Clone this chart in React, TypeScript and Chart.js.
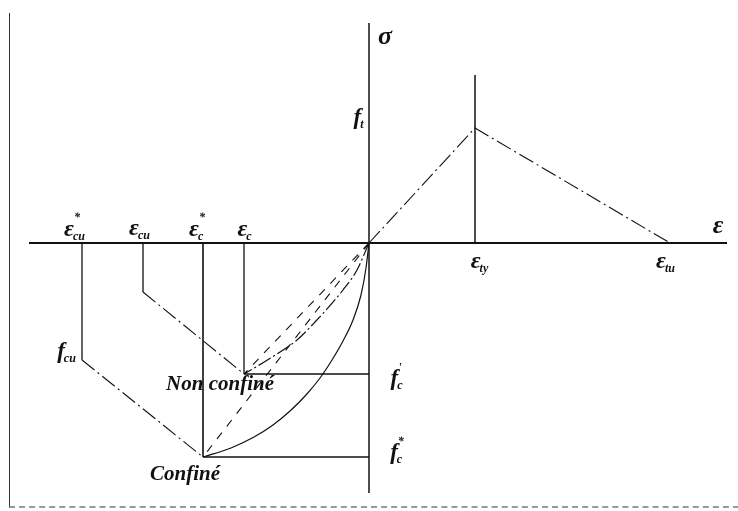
import React, { useEffect, useRef } from "react";
import { Chart, registerables } from "chart.js";

Chart.register(...registerables);

// Plot window (strain on x, stress on y, compression negative)
const X_RANGE = [-7.38, 7.38];
const Y_RANGE = [-5.36, 4.86];

// Axes extents
const strainAxisRange = [-6.8, 7.16];
const stressAxisRange = [-5.0, 4.4];

// Concrete: ε*cu, εcu, ε*c, εc
const concreteStrains = [-5.74, -4.52, -3.32, -2.5];
// Concrete: fcu (at ε*cu), stress at εcu, f*c, f'c
const concreteStresses = [-2.34, -0.98, -4.28, -2.62];

// Steel: origin, yield (εty, ft), ultimate (εtu)
const steelStrains = [0, 2.12, 6.02];
const steelStresses = [0, 2.3, 0];
const yieldLineTop = 3.36;

// Confined concrete curve, origin → (ε*c, f*c)
const confinedCurveStrain = [0, -0.06, -0.16, -0.32, -0.52, -0.74, -0.98, -1.26, -1.58, -1.92, -2.3, -2.76, -3.32];
const confinedCurveStress = [0, -0.5, -1.04, -1.54, -1.96, -2.34, -2.7, -3.04, -3.36, -3.64, -3.88, -4.1, -4.28];

// Unconfined concrete curve, origin → (εc, f'c)
const unconfinedCurveStrain = [0, -0.24, -0.52, -1.08, -1.44, -2.0, -2.5];
const unconfinedCurveStress = [0, -0.54, -0.94, -1.58, -1.94, -2.32, -2.62];

const INK = "#111";
const DASH_DOT = [16, 4, 2, 4];
const DASHED = [8, 8];

type Pt = { x: number; y: number };
const pts = (xs: number[], ys: number[]): Pt[] => xs.map((x, i) => ({ x, y: ys[i] }));

function seg(data: Pt[], width = 1.2, dash: number[] = [], smooth = false) {
  return {
    data,
    showLine: true,
    borderColor: INK,
    borderWidth: width,
    borderDash: dash,
    pointRadius: 0,
    cubicInterpolationMode: smooth ? "monotone" : "default",
    tension: smooth ? 0.4 : 0,
    fill: false,
  };
}

type Label = {
  main: string;
  sub?: string;
  sup?: string;
  x: number;
  y: number;
  dx: number;
  dy: number;
  size: number;
  font?: string;
};

const [epsCuConf, epsCu, epsCConf, epsC] = concreteStrains;
const [fCu, fAtEpsCu, fCConf, fC] = concreteStresses;
const epsTy = steelStrains[1];
const epsTu = steelStrains[2];
const fT = steelStresses[1];

const labels: Label[] = [
  { main: "σ", x: 0, y: stressAxisRange[1], dx: 16, dy: 14, size: 26 },
  { main: "ε", x: strainAxisRange[1], y: 0, dx: -9, dy: -17, size: 26 },
  { main: "ε", sub: "cu", sup: "*", x: epsCuConf, y: 0, dx: -7, dy: -13, size: 24 },
  { main: "ε", sub: "cu", x: epsCu, y: 0, dx: -3, dy: -14, size: 24 },
  { main: "ε", sub: "c", sup: "*", x: epsCConf, y: 0, dx: -6, dy: -13, size: 24 },
  { main: "ε", sub: "c", x: epsC, y: 0, dx: 1, dy: -13, size: 24 },
  { main: "ε", sub: "ty", x: epsTy, y: 0, dx: 5, dy: 19, size: 24 },
  { main: "ε", sub: "tu", x: epsTu, y: 0, dx: -4, dy: 19, size: 24 },
  { main: "f", sub: "t", x: 0, y: fT, dx: -10, dy: -10, size: 23 },
  { main: "f", sub: "cu", x: epsCuConf, y: fCu, dx: -15, dy: -8, size: 23 },
  { main: "f", sub: "c", sup: "'", x: 0, y: fC, dx: 28, dy: 5, size: 23 },
  { main: "f", sub: "c", sup: "*", x: 0, y: fCConf, dx: 28, dy: -4, size: 23 },
  { main: "Non confiné", x: epsC, y: fC, dx: -24, dy: 11, size: 21, font: "italic bold" },
  { main: "Confiné", x: epsCConf, y: fCConf, dx: -18, dy: 18, size: 21, font: "italic bold" },
];

function drawSymbol(ctx: CanvasRenderingContext2D, cx: number, cy: number, l: Label) {
  const family = '"Liberation Serif", "DejaVu Serif", serif';
  const style = l.font ?? "italic bold";
  const mainFont = `${style} ${l.size}px ${family}`;
  const smallSize = Math.round(l.size * 0.5);
  const smallFont = `italic bold ${smallSize}px ${family}`;
  ctx.font = mainFont;
  const wm = ctx.measureText(l.main).width;
  ctx.font = smallFont;
  const ws = l.sub ? ctx.measureText(l.sub).width : 0;
  const wp = l.sup ? ctx.measureText(l.sup).width : 0;
  const total = wm + Math.max(ws, wp);
  const x0 = cx - total / 2;
  ctx.textAlign = "left";
  ctx.textBaseline = "middle";
  ctx.fillStyle = INK;
  ctx.font = mainFont;
  ctx.fillText(l.main, x0, cy);
  ctx.font = smallFont;
  if (l.sub) ctx.fillText(l.sub, x0 + wm - 1, cy + l.size * 0.3);
  if (l.sup) ctx.fillText(l.sup, x0 + wm, cy - l.size * 0.5);
}

const labelPlugin = {
  id: "diagramLabels",
  afterDatasetsDraw(chart: any) {
    const { ctx, scales } = chart;
    ctx.save();
    for (const l of labels) {
      const cx = scales.x.getPixelForValue(l.x) + l.dx;
      const cy = scales.y.getPixelForValue(l.y) + l.dy;
      drawSymbol(ctx, cx, cy, l);
    }
    ctx.restore();
  },
};

export default function App() {
  const canvasRef = useRef<HTMLCanvasElement | null>(null);

  useEffect(() => {
    if (!canvasRef.current) return;
    const datasets = [
      // axes
      seg(pts(strainAxisRange, [0, 0]), 2),
      seg(pts([0, 0], stressAxisRange), 1.5),
      // steel
      seg(pts([epsTy, epsTy], [0, yieldLineTop]), 1.5),
      seg(pts(steelStrains, steelStresses), 1.1, DASH_DOT),
      // concrete verticals
      seg(pts([epsCuConf, epsCuConf], [0, fCu]), 1.3),
      seg(pts([epsCu, epsCu], [0, fAtEpsCu]), 1.3),
      seg(pts([epsCConf, epsCConf], [0, fCConf]), 1.6),
      seg(pts([epsC, epsC], [0, fC]), 1.3),
      // descending branches
      seg(pts([epsCuConf, epsCConf], [fCu, fCConf]), 1.1, DASH_DOT),
      seg(pts([epsCu, epsC], [fAtEpsCu, fC]), 1.1, DASH_DOT),
      // peak stress levels
      seg(pts([epsC, 0], [fC, fC]), 1.4),
      seg(pts([epsCConf, 0], [fCConf, fCConf]), 1.4),
      // secant lines
      seg(pts([0, epsC], [0, fC]), 1.1, DASHED),
      seg(pts([0, epsCConf], [0, fCConf]), 1.1, DASHED),
      // ascending curves
      seg(pts(unconfinedCurveStrain, unconfinedCurveStress), 1.2, [14, 3, 2, 3], true),
      seg(pts(confinedCurveStrain, confinedCurveStress), 1.2, [], true),
    ];

    const chart = new Chart(canvasRef.current, {
      type: "scatter",
      data: { datasets: datasets as any },
      options: {
        animation: false,
        responsive: false,
        layout: { padding: 0 },
        scales: {
          x: { type: "linear", display: false, min: X_RANGE[0], max: X_RANGE[1] },
          y: { type: "linear", display: false, min: Y_RANGE[0], max: Y_RANGE[1] },
        },
        plugins: { legend: { display: false }, tooltip: { enabled: false } },
        events: [],
      },
      plugins: [labelPlugin],
    });
    return () => chart.destroy();
  }, []);

  return (
    <div style={{ position: "fixed", left: 0, top: 0, width: 738, height: 511, background: "#fff" }}>
      <div
        style={{
          position: "absolute",
          left: 9,
          top: 13,
          width: 729,
          height: 493,
          borderLeft: "1px solid #333",
          borderBottom: "2px dashed #999",
        }}
      />
      <canvas ref={canvasRef} width={738} height={511} style={{ position: "absolute", left: 0, top: 0 }} />
    </div>
  );
}
